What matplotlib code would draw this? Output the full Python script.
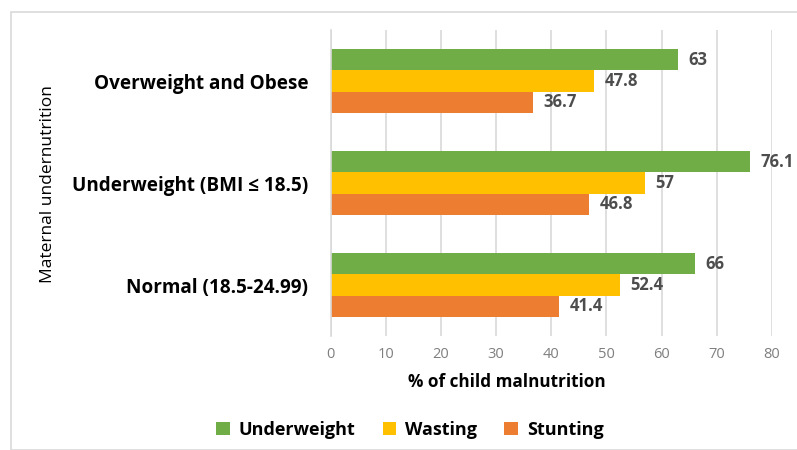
import matplotlib
matplotlib.use("Agg")
import matplotlib.pyplot as plt
from matplotlib.patches import Rectangle, Patch
import numpy as np

plt.rcParams['font.family'] = ['Open Sans', 'DejaVu Sans']

categories = ["Normal (18.5-24.99)", "Underweight (BMI ≤ 18.5)", "Overweight and Obese"]
underweight = [66, 76.1, 63]
wasting = [52.4, 57, 47.8]
stunting = [41.4, 46.8, 36.7]
series_names = ["Underweight", "Wasting", "Stunting"]
colors = ["#70AD47", "#FFC000", "#ED7D31"]
xticks = [0, 10, 20, 30, 40, 50, 60, 70, 80]

W, H = 797, 450
fig = plt.figure(figsize=(W/100, H/100), dpi=100)
fig.patches.append(Rectangle((11/W, 0), 1.2, 1 - 12/H, transform=fig.transFigure,
                             fill=False, edgecolor="#d9d9d9", linewidth=1.2))
ax = fig.add_axes([330.5/W, 1 - 336/H, (772 - 330.5)/W, (336 - 30)/H])

y = np.arange(len(categories))
h = 0.206
series = [underweight, wasting, stunting]
offsets = [h, 0, -h]
for vals, c, off, name in zip(series, colors, offsets, series_names):
    bars = ax.barh(y + off, vals, height=h, color=c, label=name)
    for b, v in zip(bars, vals):
        txt = f"{v:g}"
        ax.text(b.get_width() + 1.9, b.get_y() + b.get_height()/2, txt,
                va="center", ha="left", fontsize=12, fontweight="bold", color="#4d4d4d")

ax.set_xlim(0, 80)
ax.set_ylim(-0.5, 2.5)
ax.set_xticks(xticks)
ax.set_xticklabels([str(t) for t in xticks], fontsize=10.5, color="#7f7f7f")
ax.set_yticks(y)
ax.set_yticklabels(categories, fontsize=13.6, fontweight="bold", color="black")
ax.tick_params(axis="y", length=0, pad=16)
ax.tick_params(axis="x", length=0, pad=8)
ax.grid(axis="x", color="#d9d9d9", linewidth=1.2)
ax.set_axisbelow(True)
for s in ["top", "right", "bottom"]:
    ax.spines[s].set_visible(False)
ax.spines["left"].set_color("#d9d9d9")
ax.spines["left"].set_linewidth(1.2)

fig.text(507/W, 1 - 382/H, "% of child malnutrition", ha="center", va="center",
         fontsize=12.3, fontweight="bold", color="black")
fig.text(48/W, 1 - 184/H, "Maternal undernutrition", ha="center", va="center",
         rotation=90, fontsize=12.5, fontweight="medium", color="black")

handles = [Patch(facecolor=c, edgecolor="none") for c in colors]
leg = fig.legend(handles, series_names, loc="center", bbox_to_anchor=(410/W, 1 - 430/H),
                 ncol=3, frameon=False, prop={"size": 13, "weight": "bold"},
                 handlelength=0.75, handleheight=0.75, columnspacing=1.5, handletextpad=0.5)

fig.savefig("out.png", dpi=100)
